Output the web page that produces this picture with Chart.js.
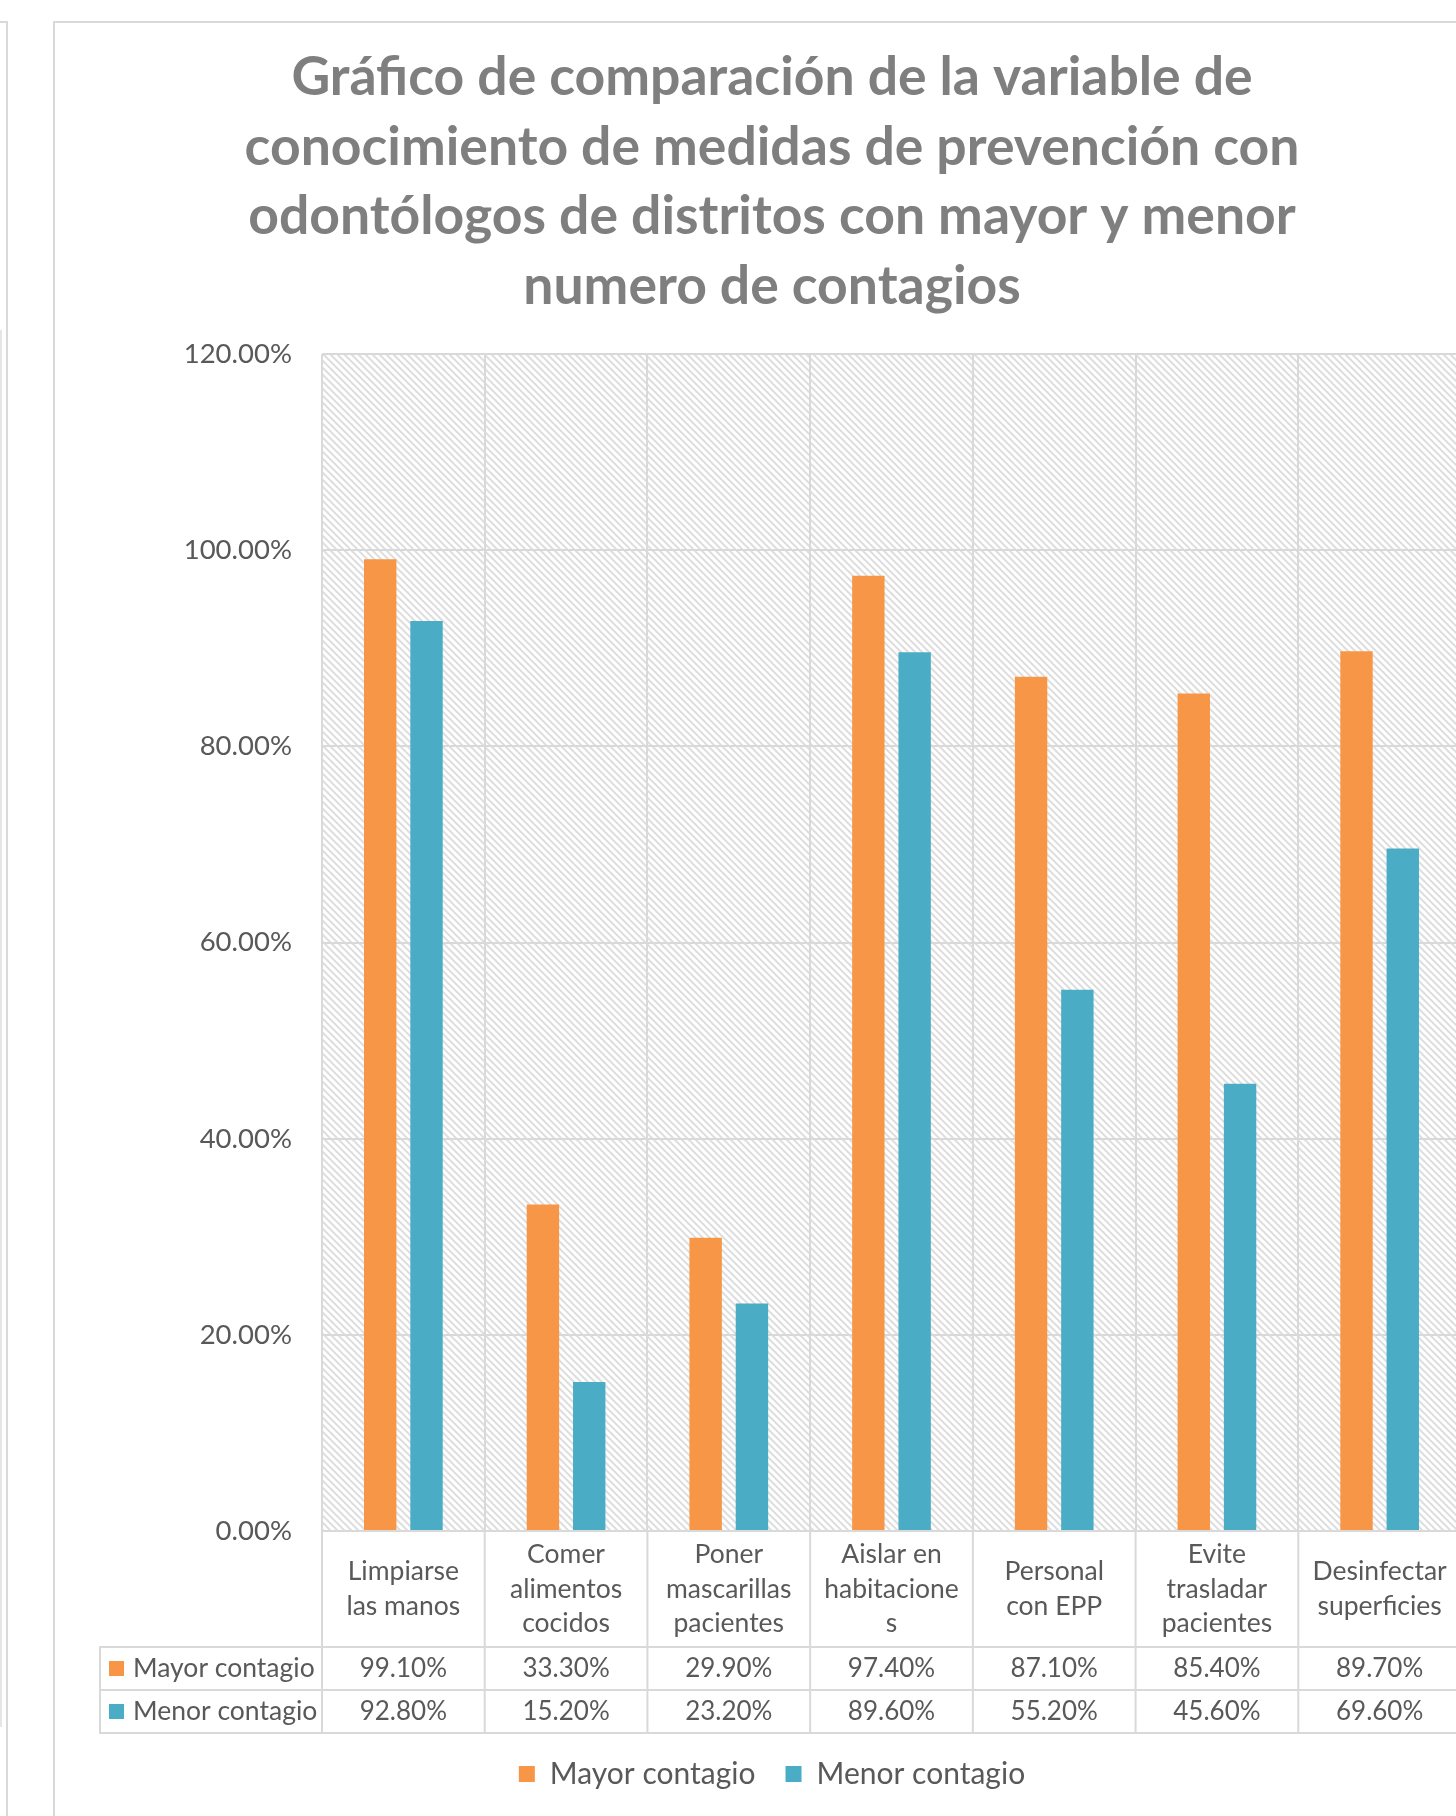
<!DOCTYPE html>
<html>
<head>
<meta charset="utf-8">
<title>Conocimiento de medidas de prevención</title>
<script src="https://cdn.jsdelivr.net/npm/chart.js@4.4.1/dist/chart.umd.min.js"></script>
<style>
  html, body { margin: 0; padding: 0; width: 1456px; height: 1816px; overflow: hidden; background: #fff; }
  .marco { position: absolute; border-color: #d9d9d9; border-style: solid; border-width: 0; }
  #grafico { position: absolute; left: 55px; top: 23px; }
</style>
</head>
<body>
<div class="marco" style="left:-10px; top:21px; width:16px; height:1900px; border-top-width:2px; border-right-width:2px;"></div>
<div class="marco" style="left:0; top:330px; width:0; height:1397px; border-left-width:2px; border-color:#e6e6e6;"></div>
<div class="marco" style="left:53px; top:21px; width:1500px; height:1900px; border-top-width:2px; border-left-width:2px;"></div>
<canvas id="grafico" width="1436" height="1786"></canvas>

<script>
// Datos del gráfico
const categorias = [
  ['Limpiarse', 'las manos'],
  ['Comer', 'alimentos', 'cocidos'],
  ['Poner', 'mascarillas', 'pacientes'],
  ['Aislar en', 'habitacione', 's'],
  ['Personal', 'con EPP'],
  ['Evite', 'trasladar', 'pacientes'],
  ['Desinfectar', 'superficies']
];
const nombresSeries = ['Mayor contagio', 'Menor contagio'];
const mayorContagio = [99.1, 33.3, 29.9, 97.4, 87.1, 85.4, 89.7];
const menorContagio = [92.8, 15.2, 23.2, 89.6, 55.2, 45.6, 69.6];
const marcasEjeY = [0, 20, 40, 60, 80, 100, 120];
const tituloLineas = [
  'Gráfico de comparación de la variable de',
  'conocimiento de medidas de prevención con',
  'odontólogos de distritos con mayor y menor',
  'numero de contagios'
];

const colores = ['#F79646', '#4BACC6'];
const gris = '#d9d9d9';
const textoGris = '#595959';
const fuente = 'Lato, "Open Sans", sans-serif';

// Fondo rayado del área de trazado
function crearPatron(ctx) {
  const p = 7;
  const c = document.createElement('canvas');
  c.width = p; c.height = p;
  const g = c.getContext('2d');
  g.fillStyle = '#fff';
  g.fillRect(0, 0, p, p);
  g.strokeStyle = '#dedede';
  g.lineWidth = 2;
  g.beginPath();
  g.moveTo(-1, -1); g.lineTo(p + 1, p + 1);
  g.moveTo(-1, p - 1); g.lineTo(1, p + 1);
  g.moveTo(p - 1, -1); g.lineTo(p + 1, 1);
  g.stroke();
  return ctx.createPattern(c, 'repeat');
}

function linea(ctx, x1, y1, x2, y2) {
  ctx.beginPath();
  ctx.moveTo(x1, y1);
  ctx.lineTo(x2, y2);
  ctx.stroke();
}

// Tabla de datos debajo del eje X
const tablaPlugin = {
  id: 'tablaDatos',
  beforeDraw(chart) {
    const { ctx, chartArea: a } = chart;
    ctx.save();
    ctx.fillStyle = crearPatron(ctx);
    ctx.fillRect(a.left, a.top, a.right - a.left, a.bottom - a.top);
    ctx.restore();
  },
  afterDraw(chart) {
    const { ctx, chartArea: a } = chart;
    const x = chart.scales.x;
    const n = categorias.length;
    const paso = x.getPixelForValue(1) - x.getPixelForValue(0);
    const izq = a.left - 222;
    const derecha = x.getPixelForValue(n - 1) + paso / 2;
    const y0 = a.bottom, y1 = y0 + 116, y2 = y1 + 43, y3 = y2 + 43;

    ctx.save();
    ctx.strokeStyle = gris;
    ctx.lineWidth = 2;
    for (let i = 0; i <= n; i++) {
      const xb = x.getPixelForValue(0) - paso / 2 + i * paso;
      linea(ctx, xb, y0, xb, y3);
    }
    linea(ctx, izq, y1, izq, y3);
    [y1, y2, y3].forEach(yy => linea(ctx, izq - 1, yy, derecha, yy));

    ctx.fillStyle = textoGris;
    ctx.textAlign = 'center';
    ctx.textBaseline = 'middle';
    ctx.font = '26.5px ' + fuente;
    const alto = 34.7;
    categorias.forEach((lineas, i) => {
      const cx = x.getPixelForValue(i);
      const inicio = (y0 + y1) / 2 - (lineas.length - 1) * alto / 2;
      lineas.forEach((t, k) => ctx.fillText(t, cx, inicio + k * alto));
    });

    const series = [mayorContagio, menorContagio];
    [y1, y2].forEach((ya, s) => {
      const cy = ya + 21.5;
      ctx.fillStyle = colores[s];
      ctx.fillRect(izq + 9, cy - 7.5, 15, 15);
      ctx.fillStyle = textoGris;
      ctx.textAlign = 'left';
      ctx.font = '26.5px ' + fuente;
      ctx.fillText(nombresSeries[s], izq + 33, cy);
      ctx.textAlign = 'center';
      ctx.font = '26px ' + fuente;
      series[s].forEach((v, i) => ctx.fillText(v.toFixed(2) + '%', x.getPixelForValue(i), cy));
    });
    ctx.restore();
  }
};

new Chart(document.getElementById('grafico'), {
  type: 'bar',
  data: {
    labels: categorias,
    datasets: [
      { label: nombresSeries[0], data: mayorContagio, backgroundColor: colores[0] },
      { label: nombresSeries[1], data: menorContagio, backgroundColor: colores[1] }
    ]
  },
  options: {
    responsive: false,
    animation: false,
    categoryPercentage: 0.569,
    barPercentage: 0.7,
    layout: { padding: { left: 28, right: 30, top: 0, bottom: 10 } },
    plugins: {
      title: {
        display: true,
        text: tituloLineas,
        color: '#7f7f7f',
        font: { family: fuente, size: 53.5, weight: 'bold', lineHeight: 1.3 },
        padding: { top: 20, bottom: 33 }
      },
      legend: {
        position: 'bottom',
        labels: {
          color: textoGris,
          font: { family: fuente, size: 30 },
          boxWidth: 16,
          boxHeight: 16,
          padding: 30
        }
      },
      tooltip: { enabled: false }
    },
    scales: {
      x: {
        grid: { color: gris, lineWidth: 2, drawTicks: false, offset: true },
        border: { color: gris, width: 2 },
        ticks: { display: false },
        afterFit(scale) { scale.height = 198; }
      },
      y: {
        min: marcasEjeY[0],
        max: marcasEjeY[marcasEjeY.length - 1],
        grid: { color: gris, lineWidth: 2, drawTicks: false },
        border: { display: false },
        ticks: {
          stepSize: marcasEjeY[1] - marcasEjeY[0],
          padding: 30,
          color: textoGris,
          font: { family: fuente, size: 27.5 },
          callback: v => v.toFixed(2) + '%'
        },
        afterFit(scale) { scale.width = 239; }
      }
    }
  },
  plugins: [tablaPlugin]
});
</script>
</body>
</html>
